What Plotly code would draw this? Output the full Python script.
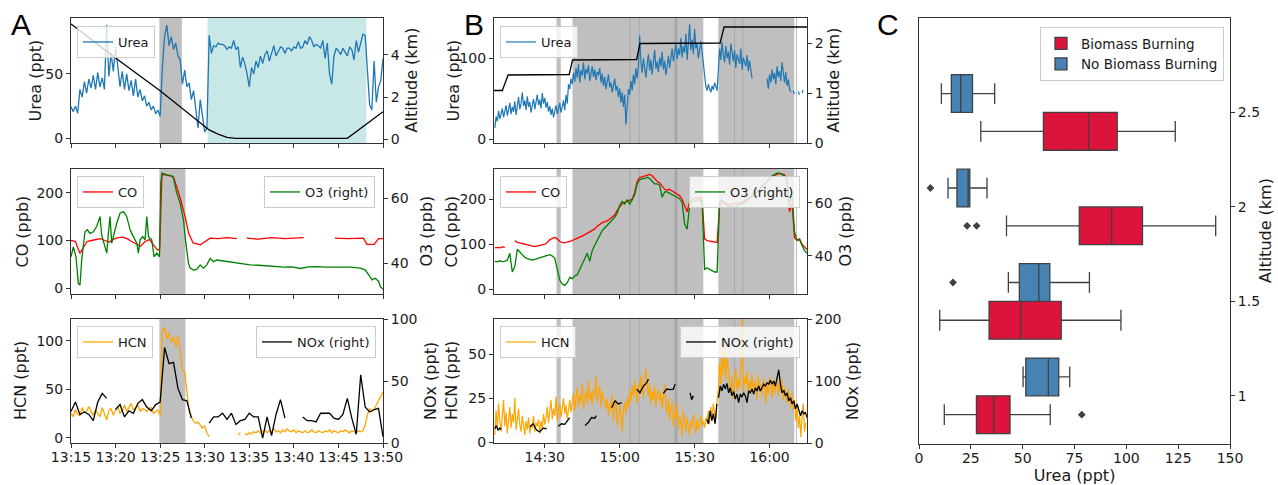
import pandas as pd
import plotly.graph_objects as go

W, H = 1278, 485
DAY = "2019-08-20 "
FONT = "DejaVu Sans"
TXT = "#1a1a1a"
AXC = "#333333"

C_UREA = "#1f77b4"
C_CO = "#ff0000"
C_O3 = "#008000"
C_HCN = "#ffa500"
C_K = "#000000"
C_SPAN = "#bfbfbf"
C_SPAN2 = "#a8a8a8"
C_OCEAN = "#c8e8e8"
C_BB = "#dc143c"
C_NOBB = "#4682b4"
C_BOXLINE = "#404040"

# ======================= Panel A (13:15 - 13:50) =======================
a_start = "13:15:00"
a_step_urea = 0.25   # minutes between samples
urea_a = [24.6, 20.7, 25, 19.4, 38, 32, 44, 35, 46, 39,
          49, 38, 51, 40, 47, 38, 88, 48, 66, 52,
          71, 55, 40, 52, 38, 50, 37, 45, 33, 46,
          32, 38, 29, 33, 25, 28, 22, 25, 19, 22,
          17, 55, 79, 88, 72, 79, 69, 74, 64, 61,
          42, 53, 40, 43, 30, 37, 22, 8, 30, 16,
          5, 8, 80, 66, 72, 71, 74, 73, 73, 72,
          69, 71, 70, 76, 69, 71, 55, 63, 58, 50,
          40, 55, 50, 60, 55, 64, 58, 65, 68, 60,
          66, 72, 64, 68, 71, 70, 66, 70, 70, 68,
          71, 70, 75, 70, 71, 76, 73, 79, 76, 71,
          73, 72, 70, 76, 62, 74, 50, 42, 64, 70,
          68, 65, 70, 67, 64, 71, 69, 61, 76, 67,
          74, 81, 80, 52, 26, 22, 60, 28, 40, 45,
          62]
alt_a_min = [0, 5, 10, 14.5, 15.5, 16.5, 17.5, 18.5, 31, 35]
alt_a = [5.46, 3.85, 2.3, 0.76, 0.45, 0.25, 0.1, 0.05, 0.05, 1.31]

co_a_min = [0, 0.5, 1.0, 1.4, 1.8, 2.3, 2.8, 3.3, 3.8, 4.3,
            4.8, 5.3, 5.8, 6.3, 6.8, 7.3, 7.8, 8.3, 8.8, 9.3,
            9.7, 9.95, 10.2, 10.8, 11.5, 12.2, 12.8, 13.2, 13.7, 14.5,
            15.2, 15.6, 16.5, 17.5, 18.6, 18.7, 19.7, 21, 22.5, 24,
            25, 26.1, 26.2, 29.6, 31, 32.8, 33.2, 34.0, 34.5, 35]
co_a = [100, 98, 73, 85, 98, 100, 102, 104, 100, 97,
        103, 106, 107, 104, 98, 93, 88, 98, 102, 90,
        80, 82, 238, 237, 233, 192, 150, 115, 95, 91,
        100, 105, 104, 106, 104, None, 105, 103, 106, 104,
        105, 106, None, 105, 104, 105, 92, 92, 104, 104]

o3_a_min = [0, 0.26, 0.56, 0.82, 1.01, 1.2, 1.57, 1.83, 2.13, 2.51,
            2.88, 3.26, 3.44, 3.71, 4.01, 4.19, 4.38, 4.57, 4.83, 5.13,
            5.5, 5.88, 6.25, 6.63, 7.0, 7.38, 7.56, 7.75, 8.05, 8.31,
            8.5, 8.69, 9.06, 9.32, 9.62, 9.92, 10.07, 10.22, 10.75, 11.31,
            11.49, 11.87, 12.24, 12.62, 12.84, 13.18, 13.37, 13.74, 14.11, 14.49,
            14.86, 15.24, 15.61, 15.99, 16.36, 17.3, 18.23, 19.17, 20.1, 21.04,
            21.98, 22.91, 23.85, 24.78, 25.72, 26.66, 27.59, 28.53, 29.46, 30.4,
            31.34, 32.46, 33.02, 33.4, 33.77, 34.14, 34.52, 34.71, 35]
o3_a = [42, 45, 42, 33.8, 33.3, 41, 49.7, 50.3, 49.2, 49.7,
        51.3, 54.4, 48.7, 46.2, 43.1, 49.2, 54.4, 46.2, 49.2, 52.3,
        55.4, 55.9, 54.4, 50.3, 48.2, 46.2, 43.1, 47.2, 48.2, 47.2,
        54.4, 48.2, 47.2, 42, 43.1, 42, 64.6, 67.7, 67.2, 66.9,
        66.2, 61.5, 58.5, 53.3, 47.2, 40, 38.5, 37.9, 38.1, 39.5,
        38.5, 39.5, 41.5, 40.5, 41, 40.6, 40.2, 40, 39.5, 39.4,
        39.2, 39.1, 38.8, 38.9, 38.4, 38.9, 39, 38.8, 38.8, 38.9,
        38.8, 38.5, 37.9, 36.4, 34.9, 35.4, 34.4, 32.8, 32.0]

a_step_hcn = 0.25
hcn_a = [25, 21.6, 29, 24, 23, 31, 26, 27, 32, 28,
         23, 28.5, 25, 21.6, 31, 24, 18.2, 28, 30, 23,
         29, 32, 25, 28, 33.7, 27, 31, 35.4, 28.5, 31,
         33.7, 27, 30, 29, 27, 30, 31, 25, 27, 28.5,
         23, 110, 114, 102, 108, 98, 104, 94, 105, 88,
         70, 68, 45, 28, 22, 17, 15, 16, 13, 10,
         12, 5, 1, None, None, None, None, None, None, None,
         None, None, None, None, None, 3, 5, None, 4, 3,
         5, 4, 6, 5, 7, 5, 6, 8, 5, 7,
         6, 9, 6, 7, 5, 8, 6, 9, 7, 6,
         8, 5, 7, 6, 5, 7, 5, 6, 8, 6,
         5, 7, 6, 5, 7, 6, 8, 5, 7, 6,
         5, 7, 6, 8, 6, 5, 7, 6, 5, 7,
         6, 7, 13, 24, 30, 27, 29, 34, 38, 42,
         47]
a_step_nox = 0.5
nox_a = [25.5, 33, 23, 25, 23, 18, 33, 40, 36, None,
         27, 31, 21, 26, 24, 32, 35, 29, 26, 31,
         33, 77, 64, 65, 44, 35, 34, 20, None, None,
         None, 16, 21, 21, 24, 19, 24, 15, 18, 19,
         24, 21, 21, 4, 21, 6, 23, 35, 20, None,
         None, None, 21, 18, 18, 17, 24, 24, 24, 20,
         19, 23, 36, 20, 7, 55, 29, 25, 27, 28,
         5]

a_bb_top = ("13:24:55", "13:27:26")
a_bb_low = ("13:24:55", "13:27:50")
a_ocean = ("13:30:19", "13:48:08")

# ======================= Panel B (14:10 - 16:15) =======================
b_start = "14:10:00"
b_step = 0.5
urea_b = ([14, 28, 22, 35, 25, 30, 38, 27, 33, 42, 29, 36, 45, 31, 40, 34, 47, 30, 39, 52,
           37, 44, 58, 41, 48, 36, 53, 40, 46, 33, 42, 50, 37, 45, 55, 42, 49, 38, 57, 44,
           51, 39, 46, 34, 41, 30, 38, 27, 35, 42, 31, 37, 45, 33, 40, 48, 36, 55, 44, 68]
          + [62, 75, 68, 82, 71, 88, 76, 93, 70, 85, 79, 95, 74, 87, 81, 92, 72, 84, 90, 77,
             86, 73, 83, 79]
          + [88, 70, 81, 66, 77, 62, 73, 80, 64, 70, 58, 68, 75, 60, 66, 52, 63, 45, 58, 40,
             55, 18]
          + [48, 62, 55, 72, 60, 80, 68, 88, 75, 92, 128]
          + [95, 82, 100, 88, 76, 93, 105, 85, 98, 80, 92, 110, 87, 96, 83, 101, 90, 108, 86,
             97, 79, 94, 103, 88, 99, 112]
          + [96, 108, 118, 99, 112, 104, 125, 101, 115, 107, 130, 98, 120, 142, 110, 123, 105,
             136, 112, 118, 100, 114, 121, 108]
          + [92, 72, 65, 60, 68, 62, 58, 66, 61, 70, 64, 60]
          + [85, 112, 98, 120, 104, 95, 115, 100, 108, 92, 118, 103, 96, 110, 88, 105, 99, 93,
             112, 86, 101, 95, 90, 104, 84, 97, 88, 75]
          + [None] * 11
          + [75, 62, 80, 70, 86, 74, 82, 68, 90, 77, 84, 72, 95, 79, 70, 83, 66, 74]
          + [62, 58, None, 60, 56, None, None, 59, 55, None, 57, 61, None, 58])

alt_b_min = [-0.33, 3.0, 5.3, 29.8, 31.1, 56.8, 58.1, 90.2, 91.8, 125]
alt_b = [1.05, 1.05, 1.36, 1.37, 1.66, 1.67, 1.99, 2.0, 2.32, 2.32]

co_b_step = 1.0
co_b = [92, 93, 92, 94, 93, None, None, None, 108, 104,
        103, 101, 100, 99, 97, 96, 95, 96, 97, 99,
        100, 104, 110, 113, 115, 112, 106, 104, 103, 105,
        106, 108, 111, 114, 116, 118, 121, 124, 127, 130,
        134, 140, 145, 148, 150, 152, 156, 160, 165, 175,
        182, 190, 193, 195, 198, 200, 215, 240, 248, 250,
        252, 254, 255, 252, 245, 240, 236, 228, 222, 220,
        222, 218, 214, 210, 208, 200, 185, 172, 195, 200,
        203, 202, 204, 200, 112, 108, 107, 106, 105, 104,
        185, 196, 193, 190, 187, 188, 191, 192, 190, 193,
        196, 200, 204, 208, 212, 216, 222, 228, 234, 240,
        245, 250, 253, 255, 257, 256, 254, 243, 172, 192,
        115, 108, 112, 100, 95, 88]
o3_b = [38, 37.8, 38.2, 37.9, 38, 38.5, 41, 34, 36, 42.5,
        41.5, 40.5, 39.5, 39, 38.8, 38.5, 38.7, 39, 39.3, 39.6,
        40, 40.3, 40.5, 40, 39.2, 35, 31, 29.5, 29, 30,
        32, 31.5, 32.5, 33, 35, 37, 39, 41, 38, 42,
        44, 46, 48, 49.5, 50.5, 51.5, 52.5, 53.5, 54.5, 56,
        59, 60.5, 59.5, 61, 59.5, 61, 63, 67, 68.5, 69,
        69, 69.5, 69, 68, 67, 67, 66.5, 62, 64, 64,
        63.5, 63, 62.5, 62, 61.5, 60, 52, 50, 59, 60.5,
        60.5, 61, 61, 60, 35, 35.5, 35, 34.5, 34, 34,
        60, 61, 59.5, 59, 58.5, 58.3, 58.5, 59, 59.3, 59.6,
        60, 60.8, 61.5, 62.5, 63.2, 64, 65, 66, 67, 68,
        69, 70, 70.5, 71, 71, 70.5, 70, 68, 60, 63,
        49, 46, 46, 44, 42, 41]

hcn_b = ([4, 18, 8, 22, 12, 6, 15, 24, 9, 17, 5, 13, 20, 8, 16, 11, 25, 7, 14, 19, 10, 6, 15]
         + [9, 4, 12, 7, 14, 5, 10, 8, 15, 6, 11, 9, 13, 5, 12, 8, 16, 10]
         + [14, 20, 11, 17, 24, 13, 19, 15, 26, 12, 18, 22, 14, 20, 25, 16, 21, 13, 19, 24, 17]
         + [22, 28, 18, 25, 31, 20, 27, 23, 33, 19, 26, 29, 22, 35, 24, 28, 21, 30, 26, 38,
            23, 27, 32, 20, 29, 25, 22]
         + [19, 25, 15, 22, 18, 27, 12, 20, 24, 9, 17, 21, 14, 6, 18, 23]
         + [16, 25, 20, 29, 23, 32, 26, 35, 28, 22, 33, 27, 38, 30, 25, 36, 42]
         + [31, 26, 34, 22, 29, 24, 32, 20, 27, 30, 23, 28, 19, 26, 33]
         + [21, 16, 25, 12, 19, 23, 9, 17, 14, 22, 7, 15, 11, 3, 18, 10]
         + [6, 14, 9, 4, 12, 8, 16, 10, 5, 13, 7, 11, 15, 9, 12, 8, 14]
         + [12, 18, 10, 20, 14, 22, 16, 13, 24]
         + [30, 45, 33, 52, 38, 58, 35, 48, 40]
         + [32, 27, 38, 25, 35, 42, 29, 36, 31, 44, 70, 28, 37, 33, 40, 26, 35, 30, 39]
         + [28, 35, 31, 24, 38, 29, 33, 26, 36, 30, 22, 34, 27, 37, 31, 25, 35, 28, 32, 38,
            26, 33, 29, 36, 24, 31, 27, 22, 30, 25, 20, 28]
         + [18, 24, 12, 20, 8, 15, 3, 14, 22, 6, 11])

nox_b_seg_min = [0.0, 0.6, 1.3, 1.95, 2.6, 3.0,
                 14.0, 15.3, 16.7, 18.0, 19.3, 20.7, 21.0,
                 25.4, 26.7, 28.0, 29.4, 30.0, 30.5,
                 36.1, 37.4, 38.7, 40.0, 40.7, 41.0,
                 46.8, 48.1, 49.4, 50.8, 51.0,
                 56.8, 58.1, 59.5, 60.8, 61.5, 62.0,
                 67.5, 68.8, 70.2, 71.5, 72.2, 72.5,
                 78.2, 78.8, 79.5, 80.0,
                 84.9, 85.5, 86.2, 86.9, 87.5, 88.2, 88.9, 89.2]
nox_b_seg = [23, 28, 21, 24, 22, None,
             26, 31, 21, 18, 24, 23, None,
             27, 31, 30, 39, 41, None,
             28, 33, 41, 40, 44, None,
             57, 68, 63, 65, None,
             87, 81, 92, 97, 103, None,
             80, 87, 86, 87, 95, None,
             81, 70, 76, None,
             38, 31, 52, 36, 47, 31, 63, None]
nox_b_run_start = 89.6
nox_b_run_step = 0.669
nox_b_run = [73, 92, 84, 95, 87, 96, 81, 89, 76, 83,
             71, 79, 65, 79, 74, 81, 76, 65, 84, 81,
             87, 79, 89, 84, 92, 84, 89, 95, 92, 97,
             95, 101, 95, 100, 92, 105, 118, 95, 81, 85,
             76, 81, 68, 73, 63, 68, 55, 63, 52, 44,
             52, 47, 49, 41]

b_spans = [(24.7, 26.4), (31.1, 83.5), (89.5, 119.9), (120.6, 121.0)]
b_overlaps = [(53.9, 54.3), (57.6, 58.0), (71.9, 73.1), (95.8, 96.2), (99.1, 99.5)]

# ======================= Panel C (box statistics) =======================
alt_cats = ["1", "1.5", "2", "2.5"]
bb_low = [12.2, 10.0, 42.2, 29.8]
bb_q1 = [27.7, 33.8, 77.3, 60.0]
bb_med = [36.1, 49.1, 92.9, 81.8]
bb_q3 = [43.9, 68.6, 107.8, 95.6]
bb_high = [63.3, 97.4, 143.1, 123.6]
bb_out_val = [78.5, 23.2, 27.8]
bb_out_cat = [0, 2, 2]
nb_low = [50.2, 43.1, 14.0, 10.8]
nb_q1 = [51.5, 48.4, 18.3, 15.6]
nb_med = [62.4, 57.8, 23.7, 20.1]
nb_q3 = [67.4, 63.1, 24.5, 25.8]
nb_high = [72.7, 82.2, 32.8, 36.5]
nb_out_val = [16.4, 5.5]
nb_out_cat = [1, 2]


# ---------------------------- helpers ----------------------------
def at(start, minutes):
    t0 = pd.Timestamp(DAY + start)
    return [t0 + pd.Timedelta(minutes=m) for m in minutes]


def grid(start, step, n):
    return at(start, [i * step for i in range(n)])


def xd(x0, x1):
    return [x0 / W, x1 / W]


def yd(top, bottom):
    return [1 - bottom / H, 1 - top / H]


def tfont(size=14):
    return dict(family=FONT, size=size, color=TXT)


def xax(domain, anchor, rng, tick0, dtick, labels):
    return dict(type="date", domain=domain, anchor=anchor,
                range=[DAY + rng[0], DAY + rng[1]], tick0=DAY + tick0, dtick=dtick,
                tickformat="%H:%M", showticklabels=labels, ticks="outside", ticklen=4,
                tickcolor=AXC, showline=True, mirror=True, linecolor=AXC, linewidth=1,
                showgrid=False, zeroline=False, tickfont=tfont(), tickangle=0,
                ticklabelstandoff=-3, automargin=False)


def yax(rng, tickvals, side="left", domain=None, anchor=None, overlaying=None,
        ticktext=None, mirror=False):
    d = dict(range=rng, tickvals=tickvals, side=side,
             showline=True, linecolor=AXC, linewidth=1, mirror=mirror, ticks="outside",
             ticklen=4, tickcolor=AXC, tickfont=tfont(), showgrid=False, zeroline=False,
             automargin=False)
    if ticktext is not None:
        d["ticktext"] = ticktext
    if domain is not None:
        d["domain"] = domain
    if anchor is not None:
        d["anchor"] = anchor
    if overlaying is not None:
        d["overlaying"] = overlaying
    return d


def line(x, y, color, xa, ya, name=None, legend=None, width=1.3):
    return go.Scatter(x=x, y=y, mode="lines", line=dict(color=color, width=width),
                      xaxis=xa, yaxis=ya, name=name, legend=legend,
                      showlegend=name is not None, hoverinfo="skip")


def leg(x, y, xanchor, size=13):
    return dict(x=x, y=y, xanchor=xanchor, yanchor="top",
                bgcolor="rgba(255,255,255,0.8)", bordercolor="#cccccc", borderwidth=1,
                font=tfont(size), itemwidth=30, tracegroupgap=0)


fig = go.Figure()

# ----- Panel A traces -----
fig.add_trace(line(grid(a_start, a_step_urea, len(urea_a)), urea_a, C_UREA, "x", "y",
                   "Urea", "legend"))
fig.add_trace(line(at(a_start, alt_a_min), alt_a, C_K, "x", "y8"))
fig.add_trace(line(at(a_start, co_a_min), co_a, C_CO, "x2", "y2", "CO", "legend2"))
fig.add_trace(line(at(a_start, o3_a_min), o3_a, C_O3, "x2", "y9", "O3 (right)", "legend3"))
fig.add_trace(line(grid(a_start, a_step_hcn, len(hcn_a)), hcn_a, C_HCN, "x3", "y3",
                   "HCN", "legend4"))
fig.add_trace(line(grid(a_start, a_step_nox, len(nox_a)), nox_a, C_K, "x3", "y10",
                   "NOx (right)", "legend5"))

# ----- Panel B traces -----
fig.add_trace(line(grid(b_start, b_step, len(urea_b)), urea_b, C_UREA, "x4", "y4",
                   "Urea", "legend6", width=1.2))
fig.add_trace(line(at(b_start, alt_b_min), alt_b, C_K, "x4", "y11"))
fig.add_trace(line(grid(b_start, co_b_step, len(co_b)), co_b, C_CO, "x5", "y5", "CO", "legend7"))
fig.add_trace(line(grid(b_start, co_b_step, len(o3_b)), o3_b, C_O3, "x5", "y12",
                   "O3 (right)", "legend8"))
fig.add_trace(line(grid(b_start, b_step, len(hcn_b)), hcn_b, C_HCN, "x6", "y6", "HCN",
                   "legend9", width=1.2))
nox_b_min = nox_b_seg_min + [nox_b_run_start + k * nox_b_run_step for k in range(len(nox_b_run))]
nox_b = nox_b_seg + nox_b_run
fig.add_trace(line(at(b_start, nox_b_min), nox_b, C_K, "x6", "y13", "NOx (right)", "legend10"))

# ----- Panel C traces -----
pos = list(range(len(alt_cats)))
fig.add_trace(go.Box(name="Biomass Burning", orientation="h",
                     y=[p - 0.2 for p in pos], q1=bb_q1, median=bb_med, q3=bb_q3,
                     lowerfence=bb_low, upperfence=bb_high, width=0.4, whiskerwidth=0.55,
                     fillcolor=C_BB, line=dict(color=C_BOXLINE, width=1.3),
                     xaxis="x7", yaxis="y7", legend="legend11", boxpoints=False,
                     hoverinfo="skip"))
fig.add_trace(go.Box(name="No Biomass Burning", orientation="h",
                     y=[p + 0.2 for p in pos], q1=nb_q1, median=nb_med, q3=nb_q3,
                     lowerfence=nb_low, upperfence=nb_high, width=0.4, whiskerwidth=0.55,
                     fillcolor=C_NOBB, line=dict(color=C_BOXLINE, width=1.3),
                     xaxis="x7", yaxis="y7", legend="legend11", boxpoints=False,
                     hoverinfo="skip"))
fig.add_trace(go.Scatter(x=bb_out_val + nb_out_val,
                         y=[c - 0.2 for c in bb_out_cat] + [c + 0.2 for c in nb_out_cat],
                         mode="markers", marker=dict(symbol="diamond", size=6, color=C_BOXLINE),
                         xaxis="x7", yaxis="y7", showlegend=False, hoverinfo="skip"))

# ----- shapes (spans) -----
shapes = []


def span(xref, yref, t0, t1, color):
    return dict(type="rect", xref=xref, yref=yref + " domain", x0=t0, x1=t1, y0=0, y1=1,
                fillcolor=color, line=dict(width=0), layer="below")


shapes.append(span("x", "y", DAY + a_bb_top[0], DAY + a_bb_top[1], C_SPAN))
shapes.append(span("x", "y", DAY + a_ocean[0], DAY + a_ocean[1], C_OCEAN))
shapes.append(span("x2", "y2", DAY + a_bb_low[0], DAY + a_bb_low[1], C_SPAN))
shapes.append(span("x3", "y3", DAY + a_bb_low[0], DAY + a_bb_low[1], C_SPAN))
for xr, yr in [("x4", "y4"), ("x5", "y5"), ("x6", "y6")]:
    for s0, s1 in b_spans:
        t = at(b_start, [s0, s1])
        shapes.append(span(xr, yr, t[0], t[1], C_SPAN))
    for s0, s1 in b_overlaps:
        t = at(b_start, [s0, s1])
        shapes.append(span(xr, yr, t[0], t[1], C_SPAN2))

# ----- axes -----
XA = xd(71, 383)
XB = xd(494, 807)
XC = xd(919, 1230)
R1 = yd(18, 143)
R2 = yd(169, 294)
R3 = yd(319, 443)
RC = yd(18, 444)
ARNG = ("13:15:00", "13:50:00")
BRNG = ("14:09:40", "16:15:00")

layout_axes = dict(
    xaxis=xax(XA, "y", ARNG, "13:15:00", 300000, False),
    xaxis2=xax(XA, "y2", ARNG, "13:15:00", 300000, False),
    xaxis3=xax(XA, "y3", ARNG, "13:15:00", 300000, True),
    xaxis4=xax(XB, "y4", BRNG, "14:30:00", 1800000, False),
    xaxis5=xax(XB, "y5", BRNG, "14:30:00", 1800000, False),
    xaxis6=xax(XB, "y6", BRNG, "14:30:00", 1800000, True),
    yaxis=yax([-3.7, 93.5], [0, 50], domain=R1, anchor="x"),
    yaxis2=yax([-11.9, 249.6], [0, 100, 200], domain=R2, anchor="x2"),
    yaxis3=yax([-5.5, 122.4], [0, 50, 100], domain=R3, anchor="x3"),
    yaxis4=yax([-4.6, 149.7], [0, 100], domain=R1, anchor="x4"),
    yaxis5=yax([-10.4, 267], [0, 100, 200], domain=R2, anchor="x5"),
    yaxis6=yax([-0.5, 70], [0, 25, 50], domain=R3, anchor="x6"),
    yaxis8=yax([-0.17, 5.74], [0, 2, 4], side="right", anchor="x", overlaying="y"),
    yaxis9=yax([30.55, 69.0], [40, 60], side="right", anchor="x2", overlaying="y2"),
    yaxis10=yax([0, 100], [0, 50, 100], side="right", anchor="x3", overlaying="y3"),
    yaxis11=yax([0, 2.5], [0, 1, 2], side="right", anchor="x4", overlaying="y4"),
    yaxis12=yax([25.75, 72.6], [40, 60], side="right", anchor="x5", overlaying="y5"),
    yaxis13=yax([0, 200], [0, 100, 200], side="right", anchor="x6", overlaying="y6"),
    xaxis7=dict(domain=XC, anchor="y7", range=[0, 150], tickvals=[0, 25, 50, 75, 100, 125, 150],
                title=dict(text="Urea (ppt)", font=tfont(16), standoff=2),
                showline=True, mirror=True,
                linecolor=AXC, linewidth=1, ticks="outside", ticklen=4, tickcolor=AXC,
                tickfont=tfont(), showgrid=False, zeroline=False, ticklabelstandoff=-3,
                automargin=False),
    yaxis7=yax([-0.51, 4.0], pos, side="right", domain=RC, anchor="x7",
               ticktext=alt_cats, mirror=True),
)

legends = dict(
    legend=leg(77 / W, 1 - 26 / H, "left"),
    legend2=leg(77 / W, 1 - 176 / H, "left"),
    legend3=leg(375 / W, 1 - 176 / H, "right"),
    legend4=leg(77 / W, 1 - 326 / H, "left"),
    legend5=leg(376 / W, 1 - 326 / H, "right"),
    legend6=leg(500 / W, 1 - 26 / H, "left"),
    legend7=leg(500 / W, 1 - 176 / H, "left"),
    legend8=leg(800 / W, 1 - 176 / H, "right"),
    legend9=leg(500 / W, 1 - 326 / H, "left"),
    legend10=leg(800 / W, 1 - 326 / H, "right"),
    legend11=leg(1224 / W, 1 - 27 / H, "right", size=13.5),
)

# y-axis titles (rotated text), placed beside each axis: (text, x px, y px)
ytitles = [
    ("Urea (ppt)", 35, 80.5), ("CO (ppb)", 22, 231.5), ("HCN (ppt)", 20, 381),
    ("Altitude (km)", 411, 80.5), ("O3 (ppb)", 426, 231.5), ("NOx (ppt)", 430, 381),
    ("Urea (ppt)", 453, 80.5), ("CO (ppb)", 451, 231.5), ("HCN (ppt)", 451, 381),
    ("Altitude (km)", 833, 80.5), ("O3 (ppb)", 845, 231.5), ("NOx (ppt)", 852, 381),
    ("Altitude (km)", 1265, 231),
]
annotations = [
    dict(text=t, x=xp / W, y=1 - yp / H, xref="paper", yref="paper", showarrow=False,
         xanchor="center", yanchor="middle", textangle=-90, font=tfont(16))
    for t, xp, yp in ytitles
]
annotations += [
    dict(text=t, x=xp / W, y=1 - 24 / H, xref="paper", yref="paper", showarrow=False,
         xanchor="center", yanchor="middle",
         font=dict(family="Liberation Sans", size=30, color="#000000"))
    for t, xp in [("A", 21), ("B", 474), ("C", 888)]
]

fig.update_layout(
    width=W, height=H, margin=dict(l=0, r=0, t=0, b=0),
    template="none", paper_bgcolor="white", plot_bgcolor="white",
    font=dict(family=FONT, color=TXT), showlegend=True, boxmode="overlay",
    shapes=shapes, annotations=annotations, hovermode=False,
    **layout_axes, **legends,
)

fig.write_html("out.html", config={"displayModeBar": False},
               post_script="document.body.style.margin='0';")
